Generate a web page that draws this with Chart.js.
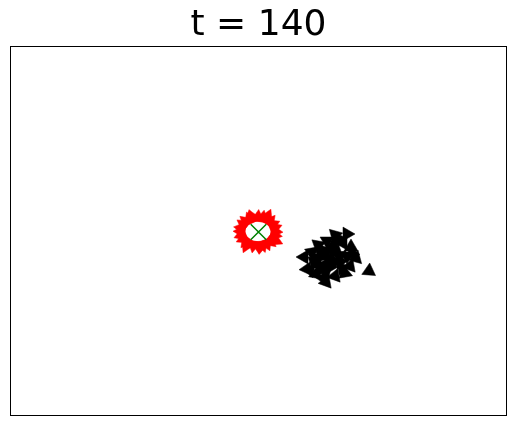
<!DOCTYPE html>
<html>
<head>
<meta charset="utf-8">
<script src="https://cdn.jsdelivr.net/npm/chart.js@4"></script>
<style>
html,body{margin:0;padding:0;background:#fff;}
#wrap{width:515px;height:426px;}
</style>
</head>
<body>
<div id="wrap"><canvas id="c"></canvas></div>
<script>
const titleText = "t = 140";

// red agents (ring around target)
const redX = [264.5, 264, 262, 259.5, 256, 252, 247.5, 243, 239, 235.5, 233, 231, 230.5, 231, 233, 235.5, 239, 243, 247.5, 252, 256, 259.5, 262, 264, 265, 240, 236, 257, 250];
const redY = [184, 187.5, 191, 194, 196, 197.5, 198, 197.5, 196, 194, 191, 187.5, 184, 180.5, 177, 174, 172, 170.5, 170, 170.5, 172, 174, 177, 180.5, 175, 198, 170, 199, 169];
const redRot = [95, 70, 66, 40, 32, 12, 5, -25, -22, -50, -55, -82, -88, -110, -115, -140, -145, -170, 175, 160, 155, 130, 125, 100, 115, -10, -155, 25, 190];

// black agents (cluster)
const blackX = [336.5, 324.5, 316.5, 307.5, 293.5, 301.5, 311.5, 322.5, 332.5, 340.5, 345.5, 358.5, 299.5, 307.5, 315.5, 315.5, 324.5, 334.5, 329.5, 319.5, 309.5, 336.5, 326.5, 303.5, 331.5, 339.5, 313.5, 319.5, 305.5, 324.5, 296.5, 312.5, 341.5, 328.5, 304.5, 314.5, 324.5, 309.5, 319.5, 329.5];
const blackY = [181.5, 180.5, 174.5, 170.5, 158.5, 163.5, 165.5, 169.5, 172.5, 168.5, 157.5, 144.5, 145.5, 151.5, 143.5, 133.5, 139.5, 142.5, 153.5, 157.5, 158.5, 159.5, 163.5, 153.5, 147.5, 149.5, 150.5, 148.5, 141.5, 173.5, 146.5, 137.5, 162.5, 176.5, 157.5, 160.5, 153.5, 145.5, 165.5, 159.5];
const blackRot = [-30, -45, -60, -50, -90, -70, 200, 130, 150, 120, 135, 125, -80, -120, 160, -100, 140, 110, -40, 170, -20, 60, 10, 190, 200, 140, 30, -150, -110, -10, -95, -85, 100, -35, -60, 45, 95, -130, 15, 170];

// target marker
const targetX = [248];
const targetY = [183.5];

const toPts = (xs, ys) => xs.map((x, i) => ({x: x, y: ys[i]}));

const frame = {
  id: 'frame',
  afterDraw(chart) {
    const a = chart.chartArea, ctx = chart.ctx;
    ctx.save();
    ctx.strokeStyle = '#000';
    ctx.lineWidth = 1;
    ctx.strokeRect(a.left, a.top, a.right - a.left, a.bottom - a.top);
    ctx.restore();
  }
};

new Chart(document.getElementById('c'), {
  type: 'scatter',
  data: {
    datasets: [
      {
        data: toPts(redX, redY),
        pointStyle: 'triangle',
        pointRadius: 8,
        pointRotation: redRot,
        backgroundColor: '#ff0000',
        borderColor: '#ff0000',
        borderWidth: 0.5,
        order: 2
      },
      {
        data: toPts(blackX, blackY),
        pointStyle: 'triangle',
        pointRadius: 8,
        pointRotation: blackRot,
        backgroundColor: '#000000',
        borderColor: '#000000',
        borderWidth: 0.5,
        order: 2
      },
      {
        data: toPts(targetX, targetY),
        pointStyle: 'crossRot',
        pointRadius: 11,
        backgroundColor: '#008000',
        borderColor: '#008000',
        borderWidth: 1.5,
        order: 1
      }
    ]
  },
  plugins: [frame],
  options: {
    responsive: true,
    maintainAspectRatio: false,
    animation: false,
    layout: {autoPadding: false, padding: {left: 10.5, right: 8.5, bottom: 10.5, top: 0}},
    plugins: {
      legend: {display: false},
      tooltip: {enabled: false},
      title: {
        display: true,
        text: titleText,
        color: '#000',
        font: {family: 'DejaVu Sans', size: 36, weight: 'normal', lineHeight: 1},
        padding: {top: 7.5, bottom: 3}
      }
    },
    scales: {
      x: {type: 'linear', min: 0, max: 496, display: false},
      y: {type: 'linear', min: 0, max: 369, display: false}
    }
  }
});
</script>
</body>
</html>
